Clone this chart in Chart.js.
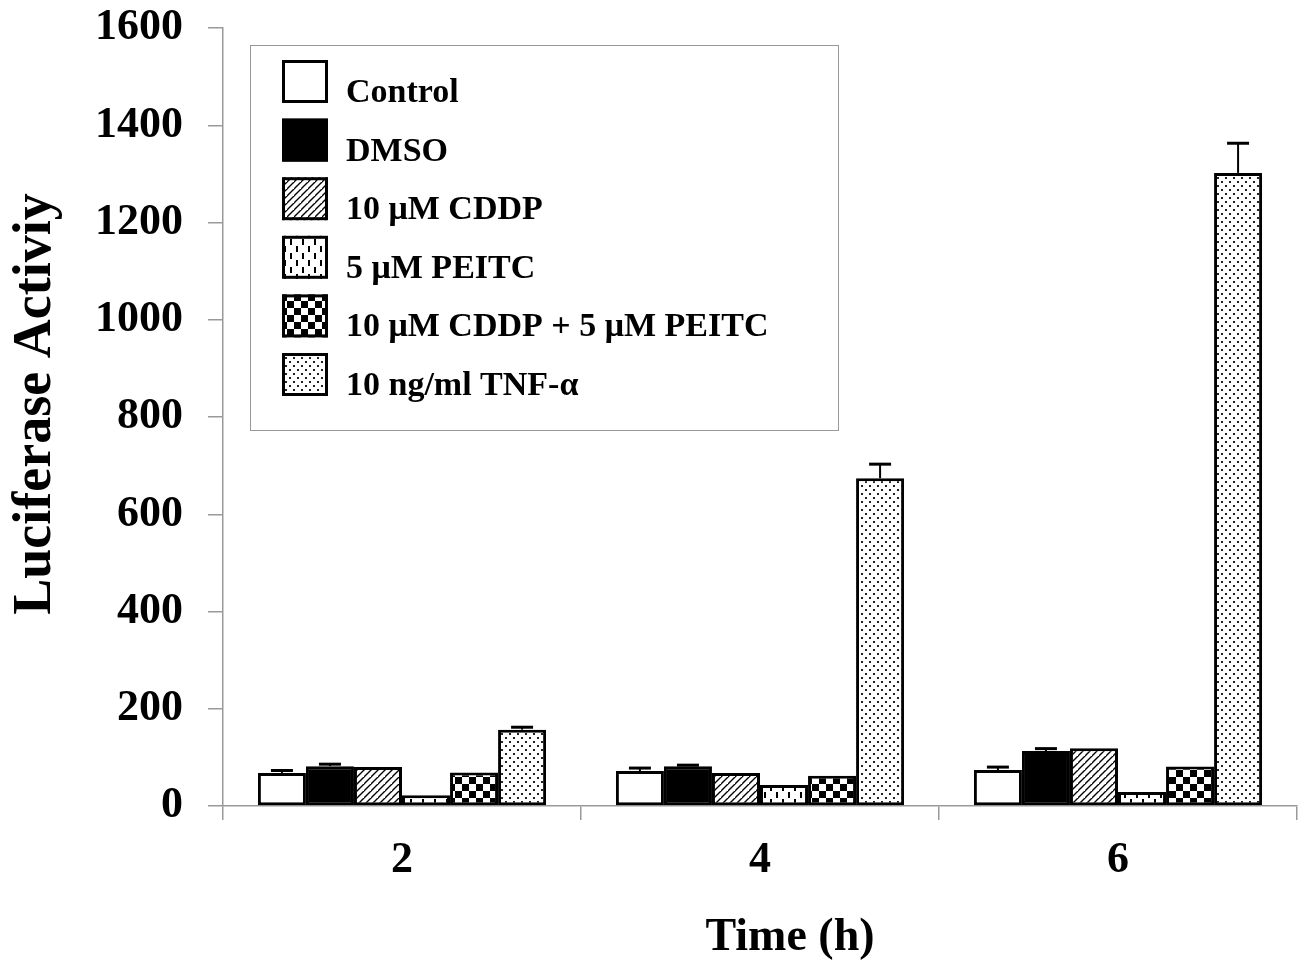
<!DOCTYPE html>
<html>
<head>
<meta charset="utf-8">
<script src="https://cdn.jsdelivr.net/npm/chart.js@4"></script>
<style>
html,body{margin:0;padding:0;background:#fff;}
#wrap{width:1304px;height:961px;position:relative;}
</style>
</head>
<body>
<div id="wrap"><canvas id="c"></canvas></div>
<script>
// ---- data ----
const categories = ['2', '4', '6'];
const seriesLabels = ['Control', 'DMSO', '10 \u03BCM CDDP', '5 \u03BCM PEITC', '10 \u03BCM CDDP + 5 \u03BCM PEITC', '10 ng/ml TNF-\u03B1'];
const controlValues = [68, 72, 74];
const dmsoValues = [82, 82, 113];
const cddpValues = [80, 68, 119];
const peitcValues = [22, 43, 29];
const comboValues = [69, 62, 81];
const tnfValues = [157, 674, 1302];
const controlErr = [5, 6, 6];
const dmsoErr = [4, 2, 5];
const cddpErr = [0, 0, 0];
const peitcErr = [0, 0, 0];
const comboErr = [0, 0, 0];
const tnfErr = [5, 29, 61];
const yTicks = [0, 200, 400, 600, 800, 1000, 1200, 1400, 1600];
const yTitle = 'Luciferase Activiy';
const xTitle = 'Time (h)';

const FONT = '"Liberation Serif", "Times New Roman", serif';

// ---- patterns ----
function makePattern(w, h, draw) {
  const c = document.createElement('canvas');
  c.width = w; c.height = h;
  const g = c.getContext('2d');
  g.fillStyle = '#fff'; g.fillRect(0, 0, w, h);
  g.fillStyle = '#000'; g.strokeStyle = '#000';
  draw(g, w, h);
  return c.getContext('2d').createPattern(c, 'repeat');
}
const patHatch = makePattern(7, 7, (g, w, h) => {
  g.lineWidth = 1.4;
  g.beginPath();
  g.moveTo(-1, h + 1); g.lineTo(w + 1, -1);
  g.moveTo(-1 - w, h + 1); g.lineTo(1, -1);
  g.moveTo(w - 1, 2 * h + 1); g.lineTo(2 * w + 1, h - 1);
  g.stroke();
});
const patDash = makePattern(12, 14, (g) => {
  g.fillRect(2, 1, 2, 6);
  g.fillRect(8, 8, 2, 6);
});
const patCheck = makePattern(14, 14, (g) => {
  g.fillRect(0, 0, 7, 7);
  g.fillRect(7, 7, 7, 7);
});
const patDots = makePattern(8, 8, (g) => {
  g.fillStyle = '#222';
  g.fillRect(1, 1, 2, 2);
  g.fillRect(5, 5, 2, 2);
});

const fills = ['#ffffff', '#000000', patHatch, patDash, patCheck, patDots];
const values = [controlValues, dmsoValues, cddpValues, peitcValues, comboValues, tnfValues];
const errs = [controlErr, dmsoErr, cddpErr, peitcErr, comboErr, tnfErr];

const datasets = seriesLabels.map((lab, i) => ({
  label: lab,
  data: values[i],
  errors: errs[i],
  backgroundColor: fills[i],
  borderColor: '#000',
  borderWidth: 3,
  borderSkipped: false,
  categoryPercentage: 0.805,
  barPercentage: 1.0
}));

// ---- plugins ----
const errorBars = {
  id: 'errorBars',
  afterDatasetsDraw(chart) {
    const ctx = chart.ctx;
    const ys = chart.scales.y;
    ctx.save();
    ctx.strokeStyle = '#000';
    chart.data.datasets.forEach((ds, i) => {
      const meta = chart.getDatasetMeta(i);
      meta.data.forEach((bar, j) => {
        const e = ds.errors[j];
        if (!e) return;
        const yTop = ys.getPixelForValue(ds.data[j] + e);
        ctx.lineWidth = 2;
        ctx.beginPath();
        ctx.moveTo(bar.x, bar.y);
        ctx.lineTo(bar.x, yTop);
        ctx.stroke();
        ctx.lineWidth = 3;
        ctx.beginPath();
        ctx.moveTo(bar.x - 11, yTop);
        ctx.lineTo(bar.x + 11, yTop);
        ctx.stroke();
      });
    });
    ctx.restore();
  }
};

const legendAndTitles = {
  id: 'legendAndTitles',
  afterDraw(chart) {
    const ctx = chart.ctx;
    ctx.save();
    // legend box
    ctx.fillStyle = '#fff';
    ctx.fillRect(250.5, 45.5, 588, 385);
    ctx.strokeStyle = '#999';
    ctx.lineWidth = 1;
    ctx.strokeRect(250.5, 45.5, 588, 385);
    chart.data.datasets.forEach((ds, i) => {
      const y0 = 60 + i * 58.6;
      ctx.fillStyle = ds.backgroundColor;
      ctx.fillRect(282, y0, 46, 43);
      ctx.strokeStyle = '#000';
      ctx.lineWidth = 3;
      ctx.strokeRect(283.5, y0 + 1.5, 43, 40);
      ctx.fillStyle = '#000';
      ctx.font = 'bold 34px ' + FONT;
      ctx.textAlign = 'left';
      ctx.textBaseline = 'alphabetic';
      ctx.fillText(ds.label, 346, y0 + 42);
    });
    // axis titles
    ctx.fillStyle = '#000';
    ctx.font = 'bold 46px ' + FONT;
    ctx.textAlign = 'center';
    ctx.textBaseline = 'alphabetic';
    ctx.fillText(xTitle, 790, 950);
    ctx.save();
    ctx.translate(50, 404);
    ctx.rotate(-Math.PI / 2);
    ctx.font = 'bold 54px ' + FONT;
    ctx.fillText(yTitle, 0, 0);
    ctx.restore();
    ctx.restore();
  }
};

new Chart(document.getElementById('c'), {
  type: 'bar',
  data: { labels: categories, datasets },
  options: {
    responsive: true,
    maintainAspectRatio: false,
    animation: false,
    layout: { padding: { top: 28, right: 7, left: 0, bottom: 0 } },
    plugins: { legend: { display: false }, tooltip: { enabled: false } },
    scales: {
      x: {
        afterFit(s) { s.height = 155; s.paddingLeft = 0; s.paddingRight = 0; },
        border: { display: true, color: '#999', width: 1.5 },
        grid: { display: true, drawOnChartArea: false, drawTicks: true, tickLength: 14, color: '#999', lineWidth: 1.5, offset: true },
        ticks: { color: '#000', font: { family: FONT, size: 44, weight: 'bold' }, padding: 14 }
      },
      y: {
        min: 0, max: 1600,
        afterFit(s) { s.width = 223; s.paddingTop = 0; s.paddingBottom = 0; },
        afterBuildTicks(s) { s.ticks = yTicks.map(v => ({ value: v })); },
        border: { display: true, color: '#999', width: 1.5 },
        grid: { display: true, drawOnChartArea: false, drawTicks: true, tickLength: 15, color: '#999', lineWidth: 1.5 },
        ticks: { color: '#000', font: { family: FONT, size: 44, weight: 'bold' }, padding: 25,
                 callback: (v) => String(v) }
      }
    }
  },
  plugins: [errorBars, legendAndTitles]
});
</script>
</body>
</html>
